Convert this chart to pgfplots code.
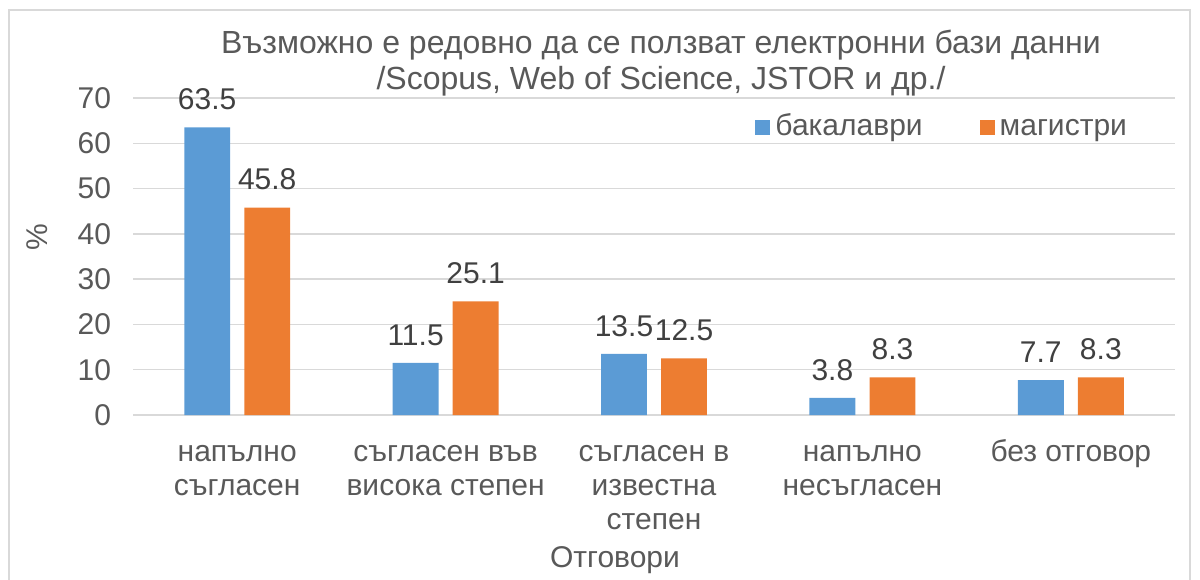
\documentclass[border=0pt]{standalone}
\usepackage{fontspec}
\setmainfont{Liberation Sans}
\usepackage{pgfplots}
\pgfplotsset{compat=1.18}
\definecolor{cblue}{HTML}{5B9BD5}
\definecolor{corange}{HTML}{ED7D31}
\definecolor{tgray}{HTML}{595959}
\definecolor{dgray}{HTML}{404040}
\definecolor{gridc}{HTML}{D9D9D9}
\begin{document}
\begin{tikzpicture}[x=0.5bp,y=0.5bp]
\useasboundingbox (0,0) rectangle (1200,-580);
\begin{scope}
\clip (0,0) rectangle (1200,-580);
\draw[gridc, line width=0.75bp] (9,-10) rectangle (1190,-620);
\end{scope}
\coordinate (O) at (133,-415);
\node[text=tgray, align=center, font=\fontsize{16bp}{18bp}\selectfont] at (661,-63)
  {Възможно е редовно да се ползват електронни бази данни\\/Scopus, Web of Science, JSTOR и др./};
\node[text=tgray, rotate=90, font=\fontsize{15bp}{18bp}\selectfont] at (37,-237) {\%};
\node[text=tgray, font=\fontsize{15bp}{18bp}\selectfont] at (615,-560) {Отговори};
\begin{axis}[
  at={(O)}, anchor=south west,
  scale only axis, width=521bp, height=158.5bp,
  xmin=-0.5, xmax=4.5, ymin=0, ymax=70,
  enlargelimits=false,
  ytick={0,10,...,70},
  xtick={0,1,2,3,4},
  xticklabels={{\strut напълно\\съгласен},{\strut съгласен във\\висока степен},{\strut съгласен в\\известна\\степен},{\strut напълно\\несъгласен},{\strut без отговор}},
  ymajorgrids, grid style={gridc, line width=0.75bp},
  axis line style={draw=none},
  major tick length=0pt,
  /pgf/number format/assume math mode=true,
  tick label style={text=tgray, font=\fontsize{15bp}{17bp}\selectfont},
  yticklabel style={xshift=-7.5bp},
  xticklabel style={align=center, yshift=-8bp},
  ybar, bar width=0.22,
  nodes near coords,
  nodes near coords style={text=dgray, font=\fontsize{15bp}{17bp}\selectfont, inner sep=0pt, yshift=8.5bp, anchor=south,
    /pgf/number format/.cd, fixed, precision=1, fixed zerofill, assume math mode=true},
  legend style={at={(axis description cs:0.778,0.9085)}, anchor=center, draw=none, fill=none,
    legend columns=2, font=\fontsize{15bp}{17bp}\selectfont, text=tgray,
    nodes={inner sep=2.5bp, text height=11bp, text depth=3bp, anchor=west},
    /tikz/every even column/.append style={column sep=26bp}},
  legend image code/.code={\fill[#1,draw=none] (0bp,-3.75bp) rectangle (7.5bp,3.75bp);},
]
\addplot[fill=cblue, draw=none, bar shift=-0.144] coordinates {(0,63.5) (1,11.5) (2,13.5) (3,3.8) (4,7.7)};
\addplot[fill=corange, draw=none, bar shift=0.144] coordinates {(0,45.8) (1,25.1) (2,12.5) (3,8.3) (4,8.3)};
\legend{бакалаври, магистри}
\end{axis}
\end{tikzpicture}
\end{document}
